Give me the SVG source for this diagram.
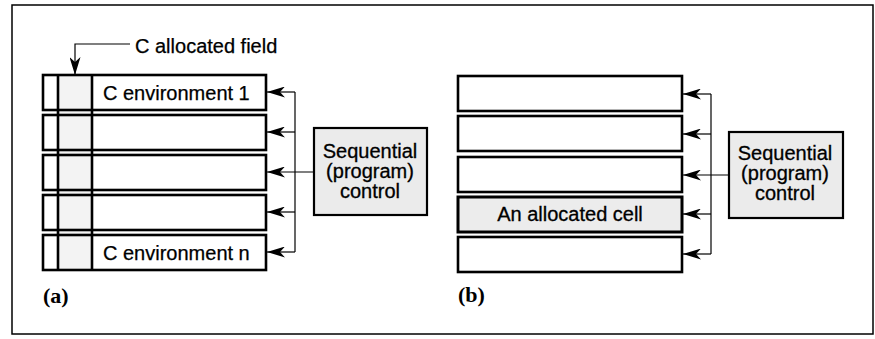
<svg xmlns="http://www.w3.org/2000/svg" width="875" height="339" viewBox="0 0 875 339">
<defs>
<style>
.row{fill:#fff;stroke:#000;stroke-width:2.6}
.rowo{fill:none;stroke:#000;stroke-width:2.6}
.cell{fill:#ececec;stroke:#000;stroke-width:3}
.box{fill:#ebebeb;stroke:#000;stroke-width:2.2}
.bus{fill:none;stroke:#000;stroke-width:1.2}
.t{font-family:"Liberation Sans",Arial,sans-serif;font-size:20px;fill:#000;stroke:#000;stroke-width:0.25}
.ts{font-family:"Liberation Sans",Arial,sans-serif;font-size:20px;fill:#000;stroke:#000;stroke-width:0.3;text-anchor:middle}
.lbl{font-family:"Liberation Serif","Times New Roman",serif;font-size:22px;font-weight:bold;fill:#000}
</style>
<marker id="ah" viewBox="0 -5.5 18 11" refX="18" refY="0" markerWidth="18" markerHeight="11" markerUnits="userSpaceOnUse" orient="auto">
<path d="M0,-5.5 L18,0 L0,5.5 L5,0 z" fill="#000"/>
</marker>
</defs>
<rect x="12" y="5" width="861" height="329" fill="#fff" stroke="#000" stroke-width="1.5"/>
<g id="panel-a">
<g id="a-field-bg"><rect x="58" y="75" width="34" height="195" fill="#f3f3f3"/></g>
<g id="a-row1"><rect class="rowo" x="43" y="75" width="223" height="35"/><text class="t" x="103" y="100">C environment 1</text></g>
<g id="a-row2"><rect class="rowo" x="43" y="115" width="223" height="35"/></g>
<g id="a-row3"><rect class="rowo" x="43" y="155" width="223" height="35"/></g>
<g id="a-row4"><rect class="rowo" x="43" y="195" width="223" height="35"/></g>
<g id="a-row5"><rect class="rowo" x="43" y="235" width="223" height="35"/><text class="t" x="103" y="260">C environment n</text></g>
<g id="a-field"><path d="M58,75 V270 M92,75 V270" fill="none" stroke="#000" stroke-width="2.6"/></g>
<g id="a-field-label"><text class="t" x="135" y="53">C allocated field</text></g>
<g id="a-control"><rect class="box" x="314" y="128" width="113" height="87"/><text class="ts" x="370" y="158">Sequential</text><text class="ts" x="370" y="178">(program)</text><text class="ts" x="370" y="198">control</text></g>
<text class="lbl" x="43" y="303">(a)</text>
</g>
<g id="panel-b">
<g id="b-row1"><rect class="row" x="458" y="76" width="224" height="35"/></g>
<g id="b-row2"><rect class="row" x="458" y="116" width="224" height="35"/></g>
<g id="b-row3"><rect class="row" x="458" y="157" width="224" height="35"/></g>
<g id="b-row4"><rect class="cell" x="458" y="197" width="224" height="35"/><text class="ts" x="570" y="221">An allocated cell</text></g>
<g id="b-row5"><rect class="row" x="458" y="237" width="224" height="35"/></g>
<g id="b-control"><rect class="box" x="729" y="132" width="114" height="86"/><text class="ts" x="785" y="160">Sequential</text><text class="ts" x="785" y="180">(program)</text><text class="ts" x="785" y="200">control</text></g>
<text class="lbl" x="458" y="302">(b)</text>
</g>
<g id="connectors">
<path class="bus" d="M130,44 H75 V75" marker-end="url(#ah)"/>
<path class="bus" d="M295,92 V252"/>
<path class="bus" d="M295,92 H267" marker-end="url(#ah)"/>
<path class="bus" d="M295,132 H267" marker-end="url(#ah)"/>
<path class="bus" d="M314,172 H267" marker-end="url(#ah)"/>
<path class="bus" d="M295,212 H267" marker-end="url(#ah)"/>
<path class="bus" d="M295,252 H267" marker-end="url(#ah)"/>
<path class="bus" d="M711,94 V254"/>
<path class="bus" d="M711,94 H683" marker-end="url(#ah)"/>
<path class="bus" d="M711,134 H683" marker-end="url(#ah)"/>
<path class="bus" d="M729,175 H683" marker-end="url(#ah)"/>
<path class="bus" d="M711,214 H683" marker-end="url(#ah)"/>
<path class="bus" d="M711,254 H683" marker-end="url(#ah)"/>
</g>
</svg>
